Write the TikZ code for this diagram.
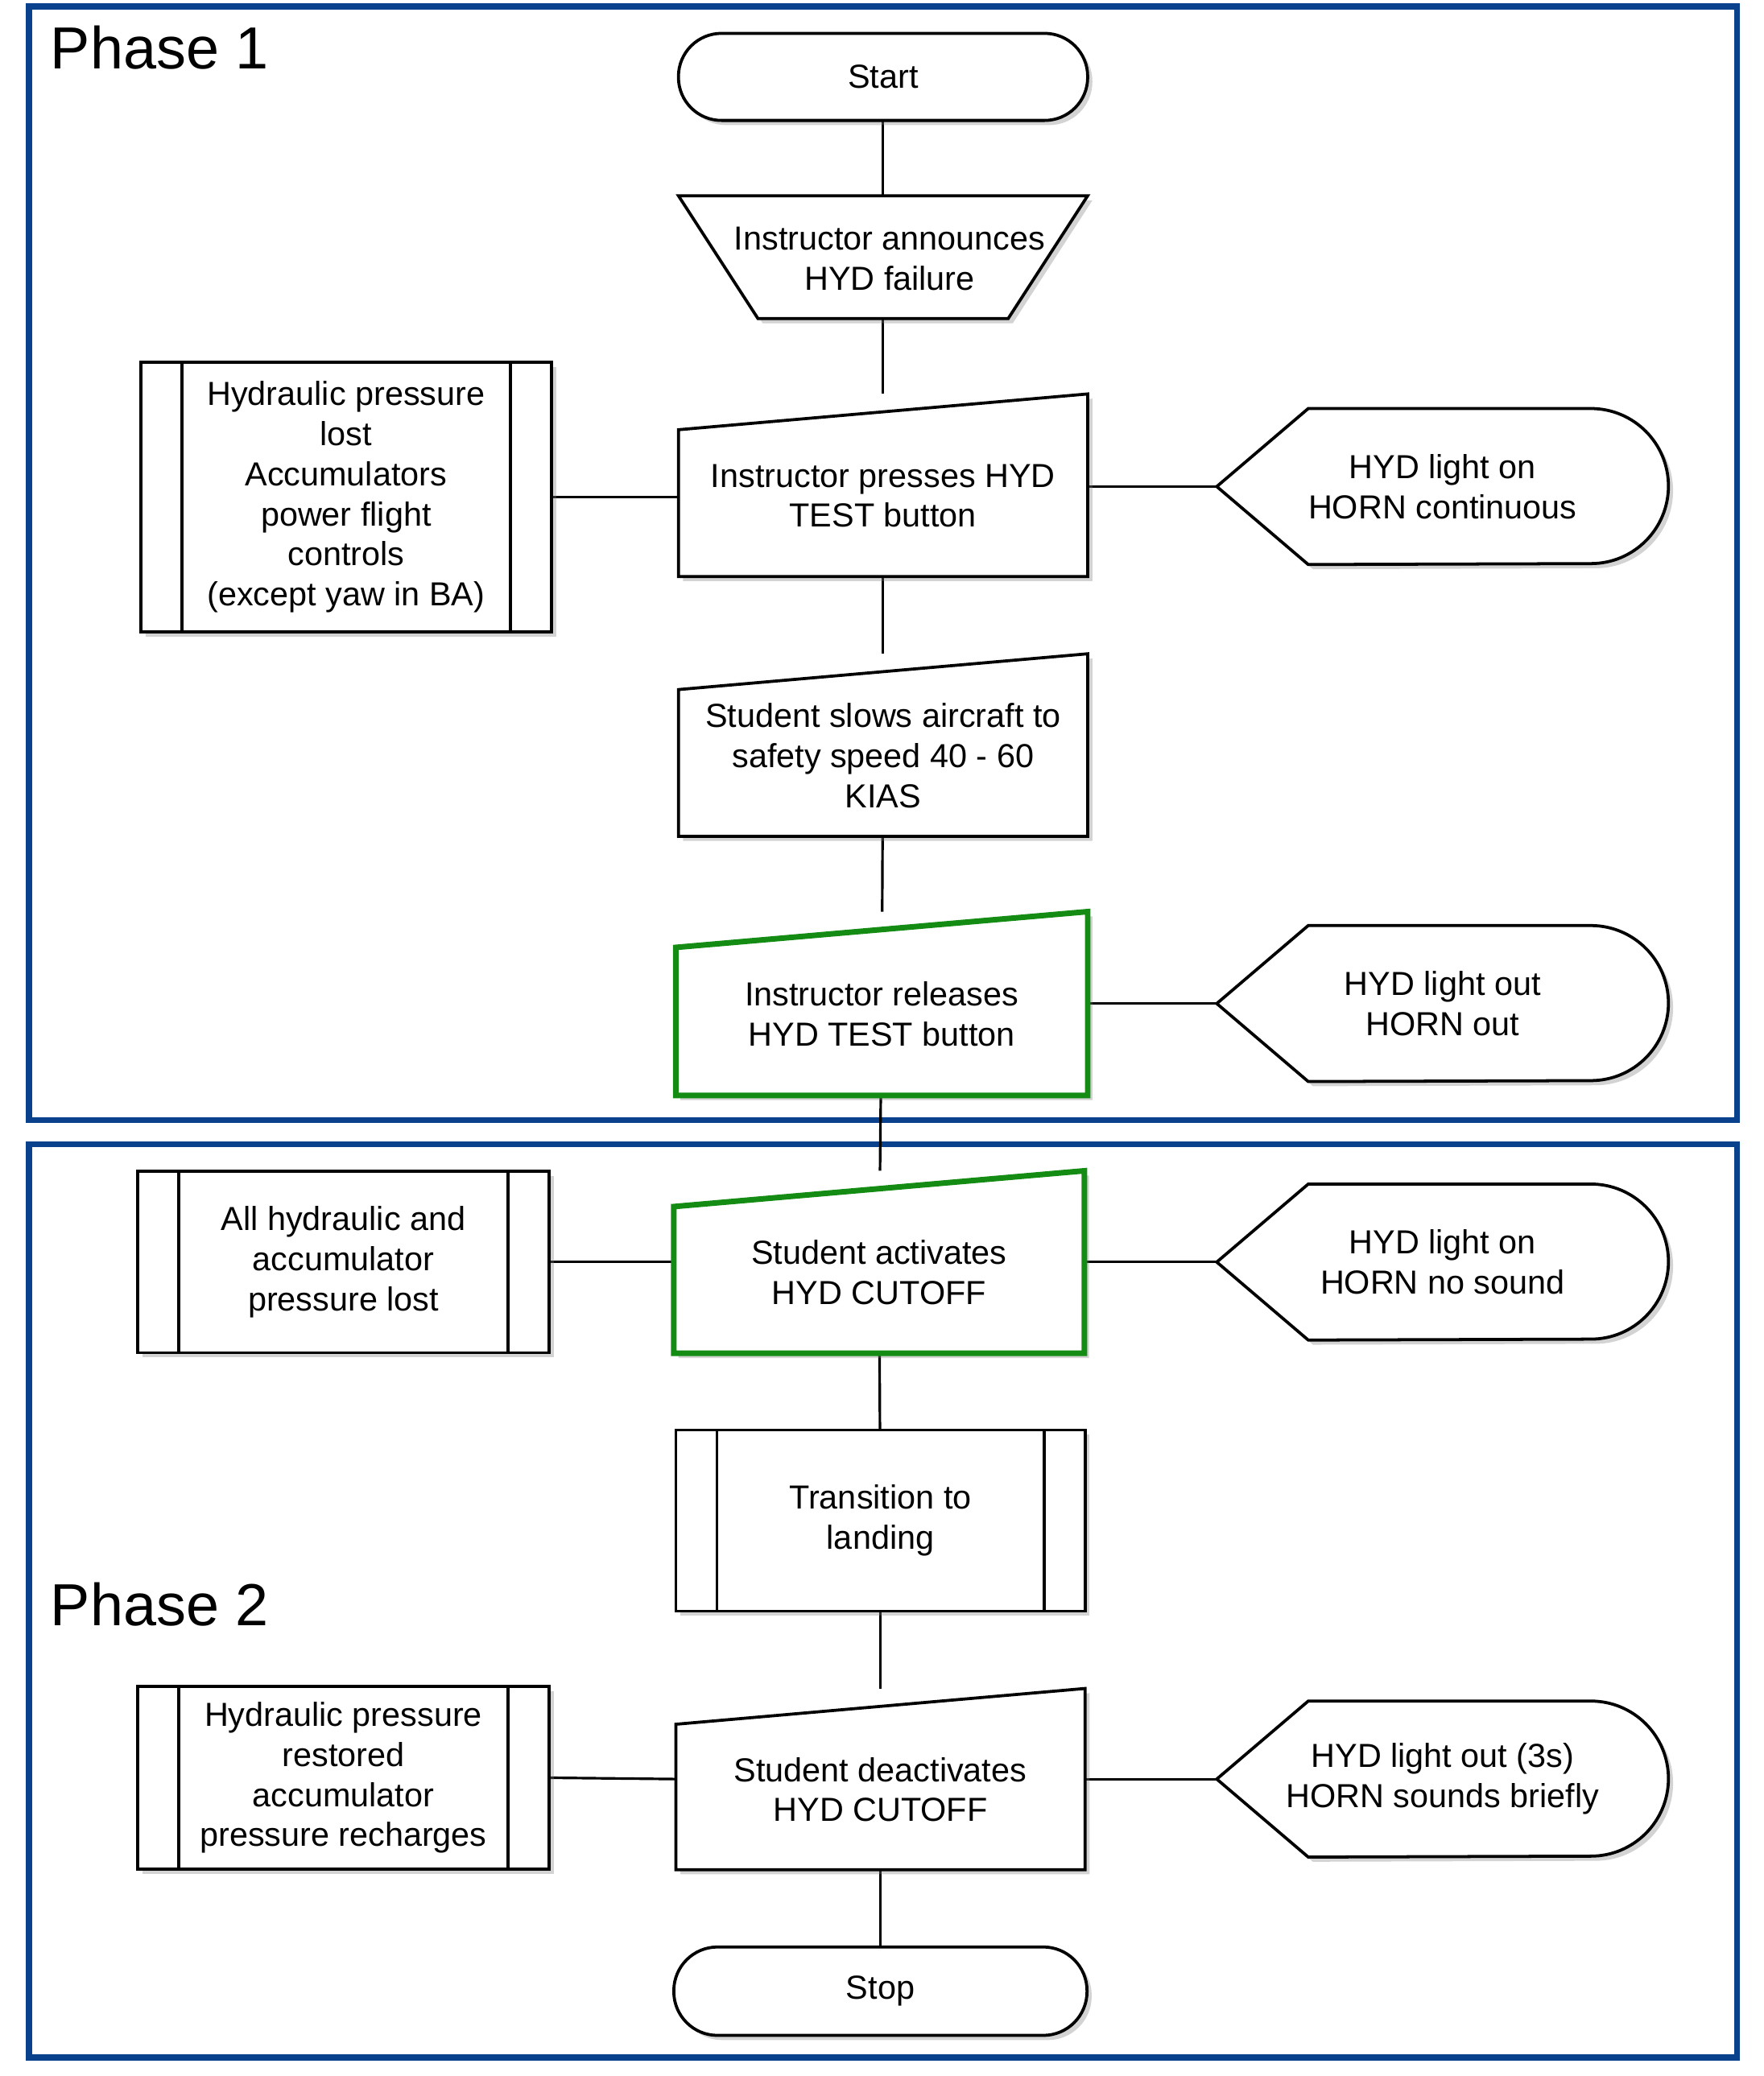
\documentclass[tikz,border=0pt]{standalone}
\usepackage{fontspec}
\setmainfont{Liberation Sans}
\usetikzlibrary{backgrounds,shadows}
\definecolor{frameblue}{RGB}{10,65,140}
\definecolor{okgreen}{RGB}{20,140,20}
\begin{document}
\begin{tikzpicture}[x=0.02cm,y=-0.02cm,
  box/.style={draw=none,inner sep=0pt,align=center,font=\fontsize{14.3}{17.2}\selectfont},
  mi/.style={box,label={[box,yshift=-0.16cm]center:{#1}}},
  shp/.style={draw=black,line width=1.3pt,fill=white,drop shadow={shadow xshift=2pt,shadow yshift=-2pt,opacity=0.35}},
  gshp/.style={shp,draw=okgreen,line width=2.4pt},
  conn/.style={draw=black,line width=1.1pt},
  frame/.style={draw=frameblue,line width=2.6pt},
  phase/.style={font=\fontsize{25.5}{30}\selectfont,anchor=west}]
\useasboundingbox (0,0) rectangle (1330,1566);
\node[box,minimum width=6.16cm,minimum height=1.3cm] (start) at (666,58) {Start};
\node[box,minimum width=6.16cm,minimum height=1.84cm] (trap) at (666,194) {};
\node[box] (traptext) at (671,195) {Instructor announces\\HYD failure};
\node[mi={Instructor presses HYD\\TEST button},minimum width=6.16cm,minimum height=2.74cm] (instr) at (666,366) {};
\node[box,minimum width=6.18cm,minimum height=4.06cm] (hydlost) at (261,375) {Hydraulic pressure\\lost\\Accumulators\\power flight\\controls\\(except yaw in BA)};
\node[box,minimum width=6.8cm,minimum height=2.34cm] (d1) at (1088,367) {HYD light on\\HORN continuous};
\node[mi={Student slows aircraft to\\safety speed 40 - 60\\KIAS},minimum width=6.16cm,minimum height=2.74cm] (slows) at (666,562) {};
\node[mi={Instructor releases\\HYD TEST button},minimum width=6.2cm,minimum height=2.76cm] (rel) at (665,757) {};
\node[box,minimum width=6.8cm,minimum height=2.34cm] (d2) at (1088,757) {HYD light out\\HORN out};
\node[box,minimum width=6.2cm,minimum height=2.72cm] (allhyd) at (259,952) {All hydraulic and\\accumulator\\pressure lost};
\node[mi={Student activates\\HYD CUTOFF},minimum width=6.18cm,minimum height=2.74cm] (act) at (663,952) {};
\node[box,minimum width=6.8cm,minimum height=2.34cm] (d3) at (1088,952) {HYD light on\\HORN no sound};
\node[box,minimum width=6.16cm,minimum height=2.72cm] (trans) at (664,1147) {Transition to\\landing};
\node[box,minimum width=6.2cm,minimum height=2.74cm] (rest) at (259,1341) {Hydraulic pressure\\restored\\accumulator\\pressure recharges};
\node[mi={Student deactivates\\HYD CUTOFF},minimum width=6.16cm,minimum height=2.72cm] (deact) at (664,1342) {};
\node[box,minimum width=6.8cm,minimum height=2.34cm] (d4) at (1088,1342) {HYD light out (3s)\\HORN sounds briefly};
\node[box,minimum width=6.22cm,minimum height=1.32cm] (stop) at (664,1502) {Stop};
\node[phase] (p1) at (32,36) {Phase 1};
\node[phase] (p2) at (32,1210) {Phase 2};
\begin{scope}[on background layer]
  \draw[frame] (22,5) rectangle (1310,845);
  \draw[frame] (22,863) rectangle (1310,1552);
  \draw[conn] (start) -- (trap);
  \draw[conn] (trap) -- (instr);
  \draw[conn] (instr) -- (slows);
  \draw[conn] (slows) -- (rel);
  \draw[conn] (rel) -- (act);
  \draw[conn] (act) -- (trans);
  \draw[conn] (trans) -- (deact);
  \draw[conn] (deact) -- (stop);
  \draw[conn] (hydlost.east) -- (hydlost.east -| instr.west);
  \draw[conn] (instr.east |- d1.west) -- (d1.west);
  \draw[conn] (rel.east |- d2.west) -- (d2.west);
  \draw[conn] (allhyd.east) -- (act.west);
  \draw[conn] (act.east) -- (d3.west);
  \draw[conn] (rest.east) -- (deact.west);
  \draw[conn] (deact.east) -- (d4.west);
  \path[shp,rounded corners=0.65cm] (start.north west) rectangle (start.south east);
  \path[shp,rounded corners=0.66cm] (stop.north west) rectangle (stop.south east);
  \path[shp] (trap.north west) -- (trap.north east) -- ([xshift=-1.2cm]trap.south east) -- ([xshift=1.2cm]trap.south west) -- cycle;
  \foreach \n/\s in {instr/shp,slows/shp,rel/gshp,act/gshp,deact/shp}{
    \path[\s] ([yshift=-0.54cm]\n.north west) -- (\n.north east) -- (\n.south east) -- (\n.south west) -- cycle;}
  \foreach \n in {hydlost,allhyd,trans,rest}{
    \path[shp] (\n.north west) rectangle (\n.south east);
    \draw[line width=1.3pt] ([xshift=0.62cm]\n.north west) -- ([xshift=0.62cm]\n.south west)
      ([xshift=-0.62cm]\n.north east) -- ([xshift=-0.62cm]\n.south east);}
  \foreach \n in {d1,d2,d3,d4}{
    \path[shp] (\n.west) -- ([xshift=1.38cm]\n.north west) -- ([xshift=-1.17cm]\n.north east)
      arc[start angle=90,end angle=-90,radius=1.17cm] -- ([xshift=1.38cm]\n.south west) -- cycle;}
\end{scope}
\end{tikzpicture}
\end{document}
